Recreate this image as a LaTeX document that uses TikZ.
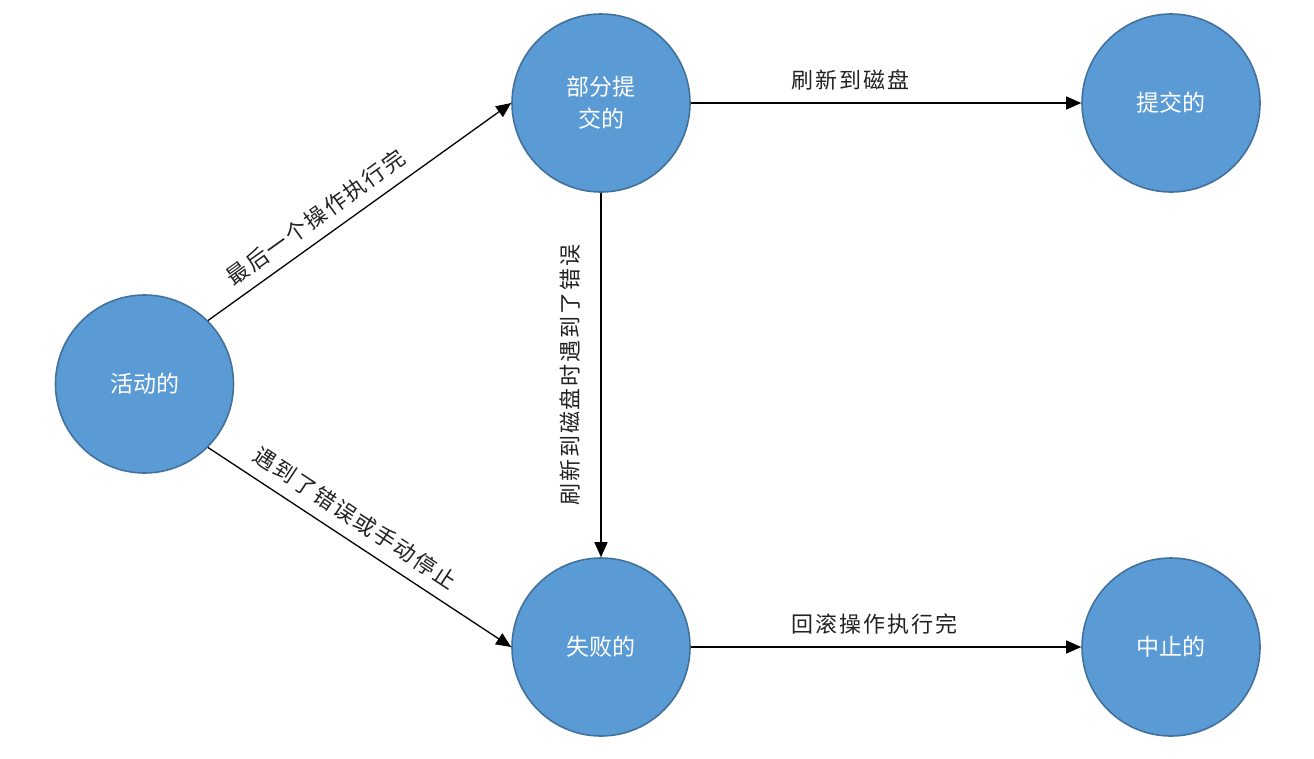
\documentclass[tikz,border=0pt]{standalone}
\usepackage{fontspec}
\newfontfamily\cjk{Noto Sans CJK SC}
\newfontfamily\cjklab[LetterSpace=9]{Noto Sans CJK SC}
\usetikzlibrary{arrows.meta}
\definecolor{nodefill}{HTML}{5B9BD5}
\definecolor{nodeline}{HTML}{41719C}
\definecolor{labelcol}{HTML}{222222}
\begin{document}
\begin{tikzpicture}[x=1pt,y=-1pt,
  state/.style={circle,fill=nodefill,draw=nodeline,line width=1.6pt,minimum size=178pt,inner sep=0pt,
    text=white,font=\cjk\fontsize{23}{32}\selectfont,align=center},
  conn/.style={draw=black,line width=1.3pt,-{Triangle[length=15pt,width=13pt]}},
  elabel/.style={text=labelcol,font=\cjklab\fontsize{22}{26}\selectfont,inner sep=0pt}]
\useasboundingbox (0,0) rectangle (1314,758);
\node[state] (act) at (144.5,384) {活动的};
\node[state] (part) at (601,103) {部分提\\交的};
\node[state] (commit) at (1171,103) {提交的};
\node[state] (fail) at (601,647) {失败的};
\node[state] (abort) at (1171,647) {中止的};

\draw[conn] (act.45) -- node[elabel,pos=0.395,sloped,above=10pt] {最后一个操作执行完} (part.west);
\draw[conn] (act.-45) -- node[elabel,pos=0.445,sloped,above=11pt] {遇到了错误或手动停止} (fail.west);
\draw[conn] (part.south) -- node[elabel,pos=0.5,rotate=90,anchor=south,yshift=20pt] {刷新到磁盘时遇到了错误} (fail.north);
\draw[conn] (part.east) -- node[elabel,pos=0.41,above=12pt] {刷新到磁盘} (commit.west);
\draw[conn] (fail.east) -- node[elabel,pos=0.47,above=12pt] {回滚操作执行完} (abort.west);
\end{tikzpicture}
\end{document}
